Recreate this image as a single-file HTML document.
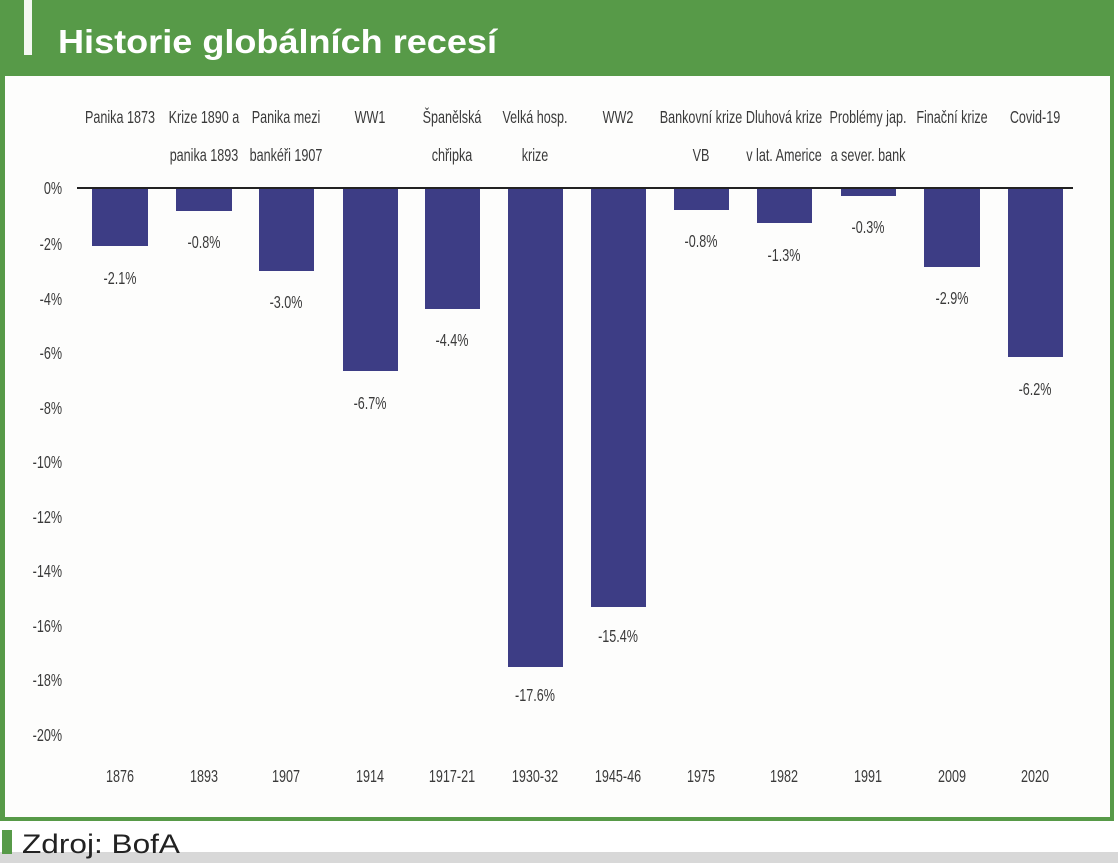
<!DOCTYPE html>
<html><head><meta charset="utf-8"><style>
html,body{margin:0;padding:0;background:#fff;}
svg{display:block;}
.t{font-family:"Liberation Sans Narrow","Liberation Sans",sans-serif;fill:#3a3a3a;font-size:18px;}
</style></head><body>
<svg width="1118" height="863" viewBox="0 0 1118 863" xmlns="http://www.w3.org/2000/svg">
<rect x="0" y="0" width="1118" height="863" fill="#ffffff"/>
<rect x="0" y="0" width="1114" height="821" fill="#579a48"/>
<rect x="5" y="76" width="1105" height="741" fill="#fdfdfc"/>
<rect x="24" y="0" width="8" height="55" fill="#f4f8f2"/>
<text x="58" y="53" font-family="Liberation Sans, sans-serif" font-weight="bold" font-size="33" fill="#ffffff" textLength="439" lengthAdjust="spacingAndGlyphs">Historie globálních recesí</text>
<rect x="0" y="852" width="1118" height="11" fill="#d8d8d8"/>
<rect x="2" y="830" width="10" height="24" fill="#579a48"/>
<text x="22" y="853" font-family="Liberation Sans, sans-serif" font-size="27" fill="#222" textLength="158" lengthAdjust="spacingAndGlyphs">Zdroj: BofA</text>
<line x1="77" y1="188" x2="1073" y2="188" stroke="#222" stroke-width="2"/>
<g fill="#3d3d85">
<rect x="92" y="189" width="56" height="57"/>
<rect x="176" y="189" width="56" height="22"/>
<rect x="259" y="189" width="55" height="82"/>
<rect x="343" y="189" width="55" height="182"/>
<rect x="425" y="189" width="55" height="120"/>
<rect x="508" y="189" width="55" height="478"/>
<rect x="591" y="189" width="55" height="418"/>
<rect x="674" y="189" width="55" height="21"/>
<rect x="757" y="189" width="55" height="34"/>
<rect x="841" y="189" width="55" height="7"/>
<rect x="924" y="189" width="56" height="78"/>
<rect x="1008" y="189" width="55" height="168"/>
</g>
<g class="t" transform="scale(0.7,1)">
<g text-anchor="end">
<text x="88.6" y="194">0%</text><text x="88.6" y="250">-2%</text><text x="88.6" y="305">-4%</text><text x="88.6" y="359">-6%</text><text x="88.6" y="414">-8%</text><text x="88.6" y="468">-10%</text><text x="88.6" y="523">-12%</text><text x="88.6" y="577">-14%</text><text x="88.6" y="632">-16%</text><text x="88.6" y="686">-18%</text><text x="88.6" y="741">-20%</text>
</g>
<g text-anchor="middle">
<text x="171.4" y="284">-2.1%</text>
<text x="291.4" y="248">-0.8%</text>
<text x="408.6" y="308">-3.0%</text>
<text x="528.6" y="409">-6.7%</text>
<text x="645.7" y="346">-4.4%</text>
<text x="764.3" y="701">-17.6%</text>
<text x="882.9" y="642">-15.4%</text>
<text x="1001.4" y="247">-0.8%</text>
<text x="1120" y="261">-1.3%</text>
<text x="1240" y="233">-0.3%</text>
<text x="1360" y="304">-2.9%</text>
<text x="1478.6" y="395">-6.2%</text>

<text x="171.4" y="123">Panika 1873</text>
<text x="291.4" y="123">Krize 1890 a</text><text x="291.4" y="161">panika 1893</text>
<text x="408.6" y="123">Panika mezi</text><text x="408.6" y="161">bankéři 1907</text>
<text x="528.6" y="123">WW1</text>
<text x="645.7" y="123">Španělská</text><text x="645.7" y="161">chřipka</text>
<text x="764.3" y="123">Velká hosp.</text><text x="764.3" y="161">krize</text>
<text x="882.9" y="123">WW2</text>
<text x="1001.4" y="123">Bankovní krize</text><text x="1001.4" y="161">VB</text>
<text x="1120" y="123">Dluhová krize</text><text x="1120" y="161">v lat. Americe</text>
<text x="1240" y="123">Problémy jap.</text><text x="1240" y="161">a sever. bank</text>
<text x="1360" y="123">Finační krize</text>
<text x="1478.6" y="123">Covid-19</text>

<text x="171.4" y="782">1876</text><text x="291.4" y="782">1893</text><text x="408.6" y="782">1907</text><text x="528.6" y="782">1914</text><text x="645.7" y="782">1917-21</text><text x="764.3" y="782">1930-32</text><text x="882.9" y="782">1945-46</text><text x="1001.4" y="782">1975</text><text x="1120" y="782">1982</text><text x="1240" y="782">1991</text><text x="1360" y="782">2009</text><text x="1478.6" y="782">2020</text>
</g>
</g>
</svg>
</body></html>
